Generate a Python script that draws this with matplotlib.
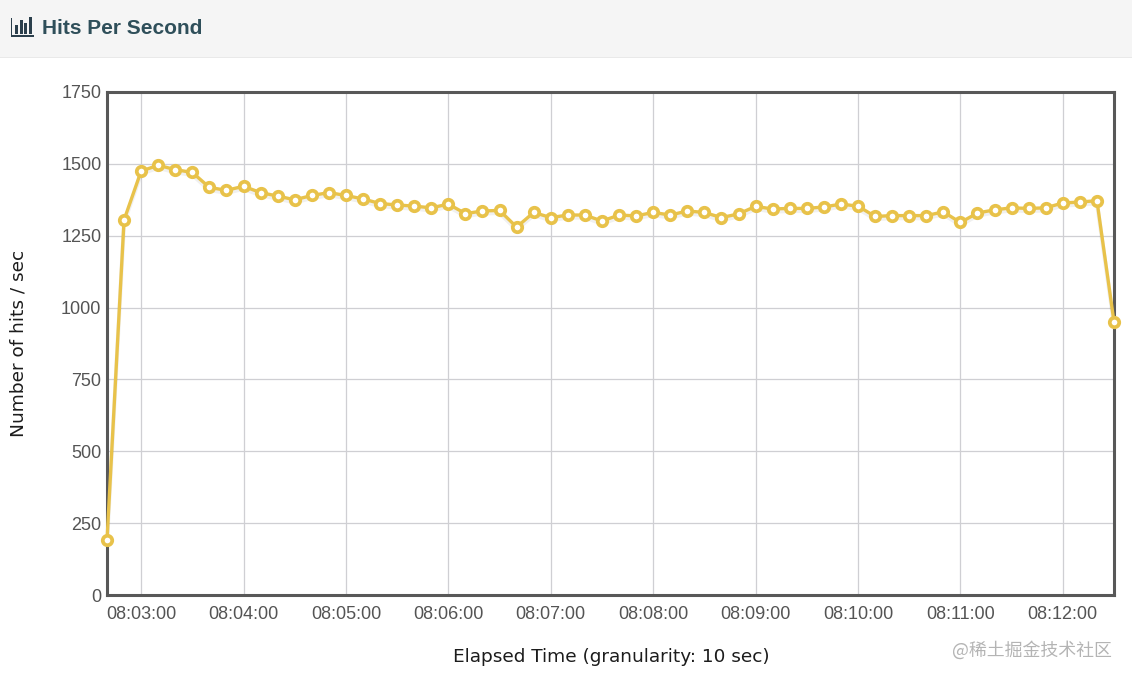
import pandas as pd
import matplotlib
matplotlib.use('Agg')
import matplotlib.pyplot as plt
import matplotlib.dates as mdates
from matplotlib.patches import Rectangle

W, H = 1132, 680

# Hits per second, one reading every 10 sec starting at 08:02:40
START_TIME = '2021-01-01 08:02:40'
hits = [190, 1305, 1475, 1495, 1480, 1470, 1418, 1408, 1422, 1400,
        1388, 1375, 1390, 1400, 1390, 1378, 1362, 1357, 1353, 1347,
        1360, 1327, 1336, 1338, 1280, 1331, 1313, 1322, 1322, 1301,
        1322, 1319, 1331, 1322, 1336, 1331, 1313, 1326, 1352, 1343,
        1345, 1345, 1350, 1360, 1353, 1317, 1320, 1320, 1320, 1333,
        1296, 1329, 1340, 1347, 1345, 1347, 1364, 1367, 1372, 950]
y_ticks = [0, 250, 500, 750, 1000, 1250, 1500, 1750]
x_ticks = ['08:03:00', '08:04:00', '08:05:00', '08:06:00', '08:07:00',
           '08:08:00', '08:09:00', '08:10:00', '08:11:00', '08:12:00']
icon_bars = [(15, 9), (19.5, 14), (24, 11), (28.5, 17)]  # left px, height px

times = pd.date_range(START_TIME, periods=len(hits), freq='10s')
tick_times = pd.to_datetime(['2021-01-01 ' + t for t in x_ticks])

LINE = '#e8c24a'
GRID = '#cfcfd3'
FRAME = '#585858'
TEXT = '#545454'

fig = plt.figure(figsize=(W / 100, H / 100), dpi=100, facecolor='white')


def px(x, y, w, h):
    # pixel box, measured from the top left, to figure fractions
    return (x / W, 1 - (y + h) / H, w / W, h / H)


# header band
fig.add_artist(Rectangle((0, 1 - 57 / H), 1, 57 / H, transform=fig.transFigure,
                         facecolor='#f5f5f5', edgecolor='none'))
fig.add_artist(Rectangle((0, 1 - 58 / H), 1, 1 / H, transform=fig.transFigure,
                         facecolor='#e9e9e9', edgecolor='none'))

# bar chart icon
ICON = '#2b3f4c'
fig.add_artist(Rectangle((11 / W, 1 - 36.5 / H), 1.4 / W, 18 / H, transform=fig.transFigure,
                         facecolor=ICON, edgecolor='none'))
fig.add_artist(Rectangle((11 / W, 1 - 36.5 / H), 23 / W, 1.4 / H, transform=fig.transFigure,
                         facecolor=ICON, edgecolor='none'))
for left, height in icon_bars:
    fig.add_artist(Rectangle((left / W, 1 - 34 / H), 3 / W, height / H,
                             transform=fig.transFigure, facecolor=ICON, edgecolor='none'))

fig.text(42 / W, 1 - 28.5 / H, 'Hits Per Second', fontsize=15, fontweight='bold',
         family='Liberation Sans', color='#2f4f5a', va='center', ha='left')

ax = fig.add_axes(px(107, 92, 1007, 503))

# soft shadow under the line, then the line itself
ax.plot(times, [v - 9 for v in hits], color='#000000', alpha=0.06, linewidth=3, clip_on=True)
ax.plot(times, hits, '-', color=LINE, linewidth=2.4, zorder=4, clip_on=False,
        solid_joinstyle='round')
ax.plot(times, hits, 'o', color=LINE, markerfacecolor='white', markeredgecolor=LINE,
        markersize=6.8, markeredgewidth=2.7, zorder=5, clip_on=False)

ax.set_xlim(times[0], times[-1])
ax.set_ylim(0, 1750)
ax.set_yticks(y_ticks)
ax.set_xticks(tick_times)
ax.xaxis.set_major_formatter(mdates.DateFormatter('%H:%M:%S'))

ax.grid(True, color=GRID, linewidth=0.9)
ax.set_axisbelow(True)
ax.tick_params(length=0, labelsize=13, labelcolor=TEXT)
ax.tick_params(axis='x', pad=8)
ax.tick_params(axis='y', pad=4)
for lab in ax.get_xticklabels() + ax.get_yticklabels():
    lab.set_family('Liberation Sans')
for spine in ax.spines.values():
    spine.set_color(FRAME)
    spine.set_linewidth(2.2)

fig.text(611 / W, 1 - 657 / H, 'Elapsed Time (granularity: 10 sec)', fontsize=13.3,
         family='DejaVu Sans', color='#1c1c1c', ha='center', va='center')
fig.text(19 / W, 1 - 343 / H, 'Number of hits / sec', fontsize=13.3, rotation=90,
         family='DejaVu Sans', color='#1c1c1c', ha='center', va='center')

# site watermark
fig.text(1112 / W, 1 - 650 / H, '@稀土掘金技术社区', fontsize=12.9, color='#b4b4b4',
         family=['Noto Sans CJK SC', 'DejaVu Sans'], ha='right', va='center')

fig.savefig('out.png', dpi=100)
